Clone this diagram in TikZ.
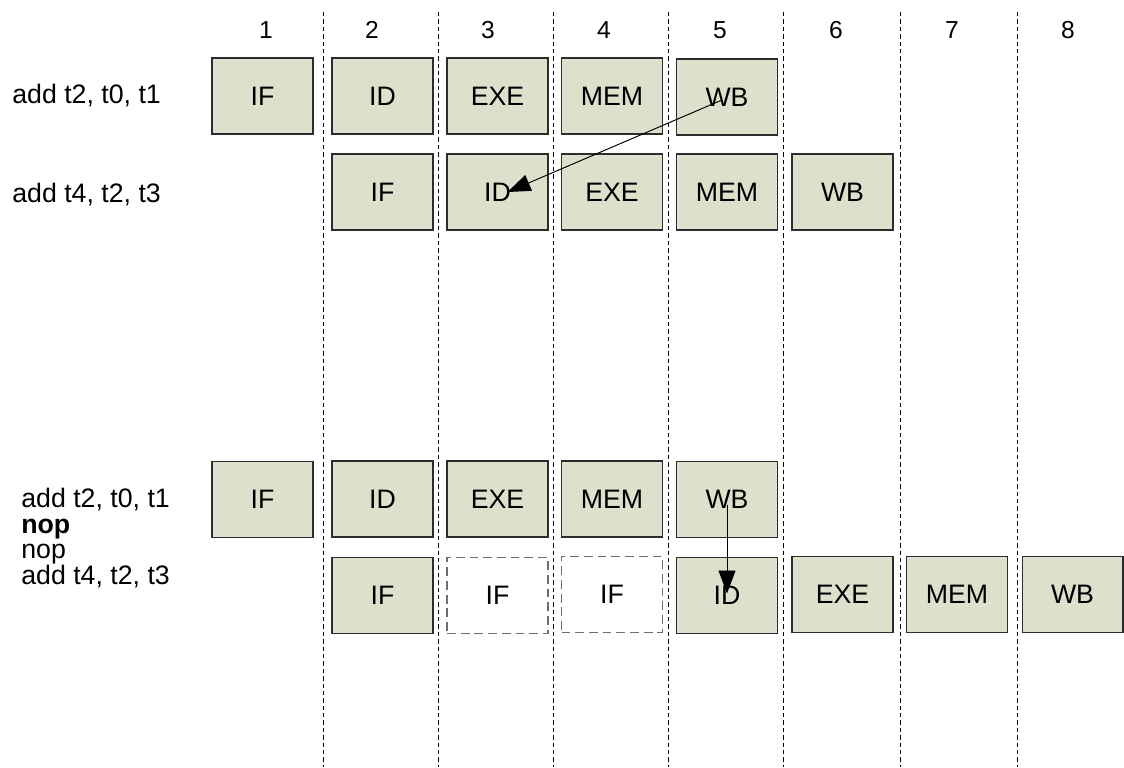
\documentclass[tikz,border=0pt]{standalone}
\usepackage{fontspec}
\setmainfont{Liberation Sans}
\usetikzlibrary{arrows.meta}
\definecolor{stagefill}{RGB}{221,225,204}
\definecolor{stageline}{RGB}{45,45,45}
\definecolor{ghostline}{RGB}{110,110,110}

\begin{document}
\begin{tikzpicture}[x=0.02cm,y=-0.02cm,
  stage/.style={draw=stageline,fill=stagefill,line width=0.6pt,minimum width=2.02cm,
    minimum height=1.52cm,inner sep=0pt,font=\fontsize{15.2}{17}\selectfont},
  ghost/.style={stage,draw=ghostline,fill=white,dash pattern=on 5pt off 2.8pt},
  cyclenum/.style={inner sep=0pt,font=\fontsize{14}{17}\selectfont},
  instr/.style={anchor=west,inner sep=0pt,align=left,font=\fontsize{15.2}{14.6}\selectfont},
  grid/.style={line width=0.5pt,dash pattern=on 2.5pt off 1.7pt},
  dep/.style={-{Triangle[length=0.46cm,width=0.34cm]},line width=0.55pt}]
  \useasboundingbox (0,0) rectangle (1124,767);
  % clock cycles
  \draw[grid] (323,12) -- (323,767);
  \draw[grid] (438,12) -- (438,767);
  \draw[grid] (553,12) -- (553,767);
  \draw[grid] (668,12) -- (668,767);
  \draw[grid] (783,12) -- (783,767);
  \draw[grid] (900,12) -- (900,767);
  \draw[grid] (1017,12) -- (1017,767);
  \node[cyclenum] (n1) at (266,30) {1};
  \node[cyclenum] (n2) at (372,30) {2};
  \node[cyclenum] (n3) at (488,30) {3};
  \node[cyclenum] (n4) at (604,30) {4};
  \node[cyclenum] (n5) at (720,30) {5};
  \node[cyclenum] (n6) at (836,30) {6};
  \node[cyclenum] (n7) at (952,30) {7};
  \node[cyclenum] (n8) at (1068,30) {8};
  % without stalls
  \node[instr] (addA) at (12,96) {add t2, t0, t1};
  \node[instr] (addB) at (12,195) {add t4, t2, t3};
  \node[stage] (aIF) at (262.5,96) {IF};
  \node[stage] (aID) at (382.5,96) {ID};
  \node[stage] (aEXE) at (497.5,96) {EXE};
  \node[stage] (aMEM) at (612,96) {MEM};
  \node[stage] (aWB) at (727,97) {WB};
  \node[stage] (bIF) at (382.5,192) {IF};
  \node[stage] (bID) at (497.5,192) {ID};
  \node[stage] (bEXE) at (612,192) {EXE};
  \node[stage] (bMEM) at (727,192) {MEM};
  \node[stage] (bWB) at (842.5,192) {WB};
  \draw[dep] ([shift={(-5,3)}]aWB.center) -- ([shift={(10,0)}]bID.center);
  % with two nops
  \node[instr] (prog) at (21,538) {add t2, t0, t1\\\textbf{nop}\\nop\\add t4, t2, t3};
  \node[stage] (cIF) at (262.5,499.5) {IF};
  \node[stage] (cID) at (382.5,499) {ID};
  \node[stage] (cEXE) at (497.5,499) {EXE};
  \node[stage] (cMEM) at (612,499) {MEM};
  \node[stage] (cWB) at (727,499.5) {WB};
  \node[stage] (dIF) at (382.5,595.5) {IF};
  \node[ghost] (dIFb) at (497.5,595.5) {IF};
  \node[ghost] (dIFc) at (612,594.5) {IF};
  \node[stage] (dID) at (727,595.5) {ID};
  \node[stage] (dEXE) at (842.5,594.5) {EXE};
  \node[stage] (dMEM) at (957,594.5) {MEM};
  \node[stage] (dWB) at (1072.5,594.5) {WB};
  \draw[dep] ([shift={(0,5)}]cWB.center) -- ([shift={(0,-2)}]dID.center);
\end{tikzpicture}
\end{document}
